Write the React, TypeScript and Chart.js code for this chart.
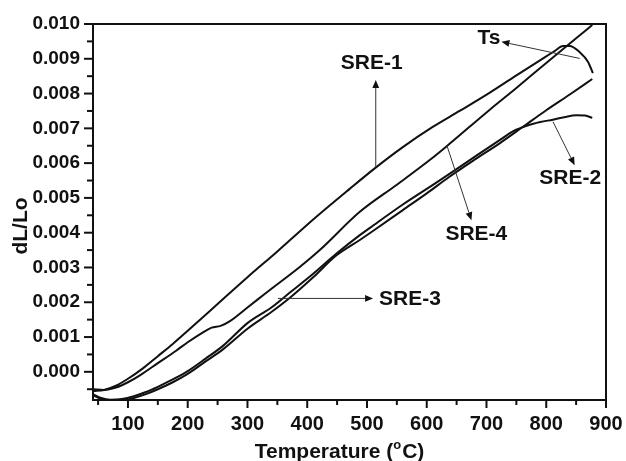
import React, { useEffect, useRef } from 'react';
import { Chart, registerables } from 'chart.js';

Chart.register(...registerables);

// ---- data (temperature in °C, dL/Lo) ----
const sre1T = [42, 60, 80, 100, 125, 150, 175, 200, 250, 300, 350, 410, 471, 513, 560, 610, 655, 705, 756, 798, 814, 828, 839, 856, 870, 878];
const sre1V = [-0.00055, -0.00052, -0.0004, -0.0002, 0.0001, 0.00045, 0.0008, 0.00118, 0.00195, 0.00272, 0.00346, 0.00438, 0.00526, 0.00585, 0.00646, 0.00704, 0.0075, 0.00802, 0.00859, 0.00905, 0.00922, 0.00937, 0.00937, 0.00919, 0.00891, 0.00859];

const sre2T = [42, 55, 70, 90, 110, 130, 150, 175, 200, 230, 260, 300, 340, 371, 410, 449, 488, 505, 560, 600, 638, 680, 722, 745, 770, 790, 811, 830, 850, 865, 877];
const sre2V = [-0.00065, -0.00075, -0.0008, -0.00078, -0.0007, -0.00058, -0.00043, -0.00022, 0.00002, 0.00038, 0.00076, 0.0014, 0.00185, 0.00228, 0.00282, 0.0034, 0.00393, 0.00414, 0.00481, 0.00526, 0.00569, 0.00618, 0.00666, 0.00692, 0.00709, 0.00718, 0.00725, 0.00732, 0.00738, 0.00737, 0.0073];

const sre3T = [42, 55, 70, 90, 110, 130, 150, 175, 200, 230, 260, 300, 340, 371, 410, 449, 488, 516, 560, 600, 638, 680, 722, 760, 800, 840, 877];
const sre3V = [-0.00068, -0.00078, -0.00082, -0.00082, -0.00075, -0.00064, -0.0005, -0.0003, -0.00006, 0.0003, 0.00066, 0.00124, 0.00172, 0.00213, 0.00272, 0.00335, 0.00379, 0.00412, 0.00465, 0.00513, 0.00561, 0.0061, 0.00657, 0.00703, 0.00752, 0.00798, 0.00842];

const sre4T = [42, 60, 80, 100, 120, 150, 180, 200, 225, 240, 255, 270, 300, 332, 388, 421, 488, 550, 605, 633, 705, 750, 800, 850, 877];
const sre4V = [-0.0005, -0.00052, -0.00045, -0.0003, -0.0001, 0.00025, 0.0006, 0.00085, 0.00113, 0.00127, 0.00132, 0.00145, 0.00185, 0.00228, 0.00302, 0.0035, 0.0046, 0.00538, 0.00609, 0.00648, 0.00753, 0.00816, 0.00888, 0.00959, 0.00997];

// ---- axes ----
const xTickValues = [100, 200, 300, 400, 500, 600, 700, 800, 900];
const xMinorValues = [50, 150, 250, 350, 450, 550, 650, 750, 850];
const yTickValues = [0, 0.001, 0.002, 0.003, 0.004, 0.005, 0.006, 0.007, 0.008, 0.009, 0.01];
const yMinorValues = [-0.0005, 0.0005, 0.0015, 0.0025, 0.0035, 0.0045, 0.0055, 0.0065, 0.0075, 0.0085, 0.0095];
const X_MIN = 41.5;
const X_MAX = 900;
const Y_MIN = -0.00081;
const Y_MAX = 0.01;

// ---- annotations (data units) ----
const labelTexts = ['SRE-1', 'Ts', 'SRE-4', 'SRE-2', 'SRE-3'];
const labelT = [508, 704, 683, 840, 572];
const labelV = [0.00888, 0.00958, 0.00395, 0.00556, 0.00208];
const arrowFromT = [514.7, 856, 633.5, 811.3, 351];
const arrowFromV = [0.00589, 0.00901, 0.00652, 0.00719, 0.00211];
const arrowToT = [514.7, 725, 674.8, 847.5, 510.2];
const arrowToV = [0.00839, 0.00949, 0.00436, 0.00594, 0.00211];

const FONT = "'Liberation Sans', Arial, Helvetica, sans-serif";

const toPts = (t: number[], v: number[]) => t.map((x, i) => ({ x, y: v[i] }));

const decorPlugin = {
  id: 'decor',
  afterDraw(chart: any) {
    const { ctx, chartArea: a, scales } = chart;
    const xs = scales.x;
    const ys = scales.y;
    ctx.save();
    ctx.strokeStyle = '#111';
    ctx.lineWidth = 2;
    ctx.strokeRect(a.left, a.top, a.right - a.left, a.bottom - a.top);
    const drawLine = (x1: number, y1: number, x2: number, y2: number) => {
      ctx.beginPath();
      ctx.moveTo(x1, y1);
      ctx.lineTo(x2, y2);
      ctx.stroke();
    };
    xTickValues.forEach((v) => {
      const p = xs.getPixelForValue(v);
      drawLine(p, a.bottom, p, a.bottom + 8);
    });
    xMinorValues.forEach((v) => {
      const p = xs.getPixelForValue(v);
      if (p >= a.left) drawLine(p, a.bottom, p, a.bottom + 5);
    });
    yTickValues.forEach((v) => {
      const p = ys.getPixelForValue(v);
      drawLine(a.left - 9, p, a.left, p);
    });
    yMinorValues.forEach((v) => {
      const p = ys.getPixelForValue(v);
      drawLine(a.left - 6, p, a.left, p);
    });

    // arrows
    ctx.strokeStyle = '#333';
    ctx.fillStyle = '#111';
    ctx.lineWidth = 1;
    for (let i = 0; i < arrowFromT.length; i++) {
      const x1 = xs.getPixelForValue(arrowFromT[i]);
      const y1 = ys.getPixelForValue(arrowFromV[i]);
      const x2 = xs.getPixelForValue(arrowToT[i]);
      const y2 = ys.getPixelForValue(arrowToV[i]);
      const ang = Math.atan2(y2 - y1, x2 - x1);
      const hl = 8;
      const hw = 3.4;
      const bx = x2 - hl * Math.cos(ang);
      const by = y2 - hl * Math.sin(ang);
      drawLine(x1, y1, bx, by);
      ctx.beginPath();
      ctx.moveTo(x2, y2);
      ctx.lineTo(bx + hw * Math.sin(ang), by - hw * Math.cos(ang));
      ctx.lineTo(bx - hw * Math.sin(ang), by + hw * Math.cos(ang));
      ctx.closePath();
      ctx.fill();
    }

    // labels
    ctx.fillStyle = '#111';
    ctx.font = `bold 21px ${FONT}`;
    ctx.textAlign = 'center';
    ctx.textBaseline = 'middle';
    labelTexts.forEach((txt, i) => {
      ctx.fillText(txt, xs.getPixelForValue(labelT[i]), ys.getPixelForValue(labelV[i]));
    });

    // y axis title
    ctx.save();
    ctx.translate(21.5, (a.top + a.bottom) / 2 + 14);
    ctx.rotate(-Math.PI / 2);
    ctx.font = `bold 21px ${FONT}`;
    ctx.textAlign = 'center';
    ctx.textBaseline = 'middle';
    ctx.fillText('dL/Lo', 0, 0);
    ctx.restore();

    // x axis title with superscript o
    const part1 = 'Temperature (';
    const sup = 'o';
    const part2 = 'C)';
    ctx.textBaseline = 'alphabetic';
    ctx.textAlign = 'left';
    ctx.font = `bold 21px ${FONT}`;
    const w1 = ctx.measureText(part1).width;
    const w3 = ctx.measureText(part2).width;
    ctx.font = `bold 13px ${FONT}`;
    const w2 = ctx.measureText(sup).width + 1;
    const total = w1 + w2 + w3;
    const cx = (a.left + a.right) / 2 - 10;
    const base = a.bottom + 58;
    let sx = cx - total / 2;
    ctx.font = `bold 21px ${FONT}`;
    ctx.fillText(part1, sx, base);
    sx += w1;
    ctx.font = `bold 13px ${FONT}`;
    ctx.fillText(sup, sx, base - 9);
    sx += w2;
    ctx.font = `bold 21px ${FONT}`;
    ctx.fillText(part2, sx, base);
    ctx.restore();
  },
};

export default function App() {
  const canvasRef = useRef<HTMLCanvasElement | null>(null);

  useEffect(() => {
    document.body.style.margin = '0';
    document.body.style.background = '#ffffff';
    const canvas = canvasRef.current;
    if (!canvas) return;
    const mk = (label: string, t: number[], v: number[]) => ({
      label,
      data: toPts(t, v),
      borderColor: '#111',
      borderWidth: 2,
      pointRadius: 0,
      showLine: true,
      fill: false,
      cubicInterpolationMode: 'monotone' as const,
    });
    const chart = new Chart(canvas, {
      type: 'scatter',
      data: {
        datasets: [
          mk('SRE-1', sre1T, sre1V),
          mk('SRE-2', sre2T, sre2V),
          mk('SRE-3', sre3T, sre3V),
          mk('SRE-4', sre4T, sre4V),
        ],
      },
      options: {
        responsive: false,
        animation: false,
        devicePixelRatio: 1,
        layout: { padding: { top: 24, right: 20, left: 0, bottom: 0 } },
        plugins: {
          legend: { display: false },
          tooltip: { enabled: false },
        },
        scales: {
          x: {
            type: 'linear',
            min: X_MIN,
            max: X_MAX,
            grid: { display: false, drawTicks: false },
            border: { display: false },
            afterBuildTicks: (s: any) => {
              s.ticks = xTickValues.map((value) => ({ value }));
            },
            afterFit: (s: any) => {
              s.height = 61;
              s.paddingLeft = 0;
              s.paddingRight = 0;
            },
            ticks: {
              padding: 12,
              color: '#111',
              font: { family: FONT, size: 20, weight: 'bold' },
              maxRotation: 0,
              autoSkip: false,
              callback: (v: any) => String(v),
            },
          },
          y: {
            type: 'linear',
            min: Y_MIN,
            max: Y_MAX,
            grid: { display: false, drawTicks: false },
            border: { display: false },
            afterBuildTicks: (s: any) => {
              s.ticks = yTickValues.map((value) => ({ value }));
            },
            afterFit: (s: any) => {
              s.width = 93;
              s.paddingTop = 0;
              s.paddingBottom = 0;
            },
            ticks: {
              padding: 13,
              color: '#111',
              font: { family: FONT, size: 19, weight: 'bold' },
              autoSkip: false,
              callback: (v: any) => Number(v).toFixed(3),
            },
          },
        },
      },
      plugins: [decorPlugin],
    });
    return () => chart.destroy();
  }, []);

  return (
    <div style={{ position: 'fixed', left: 0, top: 0, width: 626, height: 461, background: '#fff' }}>
      <canvas ref={canvasRef} width={626} height={461} />
    </div>
  );
}
